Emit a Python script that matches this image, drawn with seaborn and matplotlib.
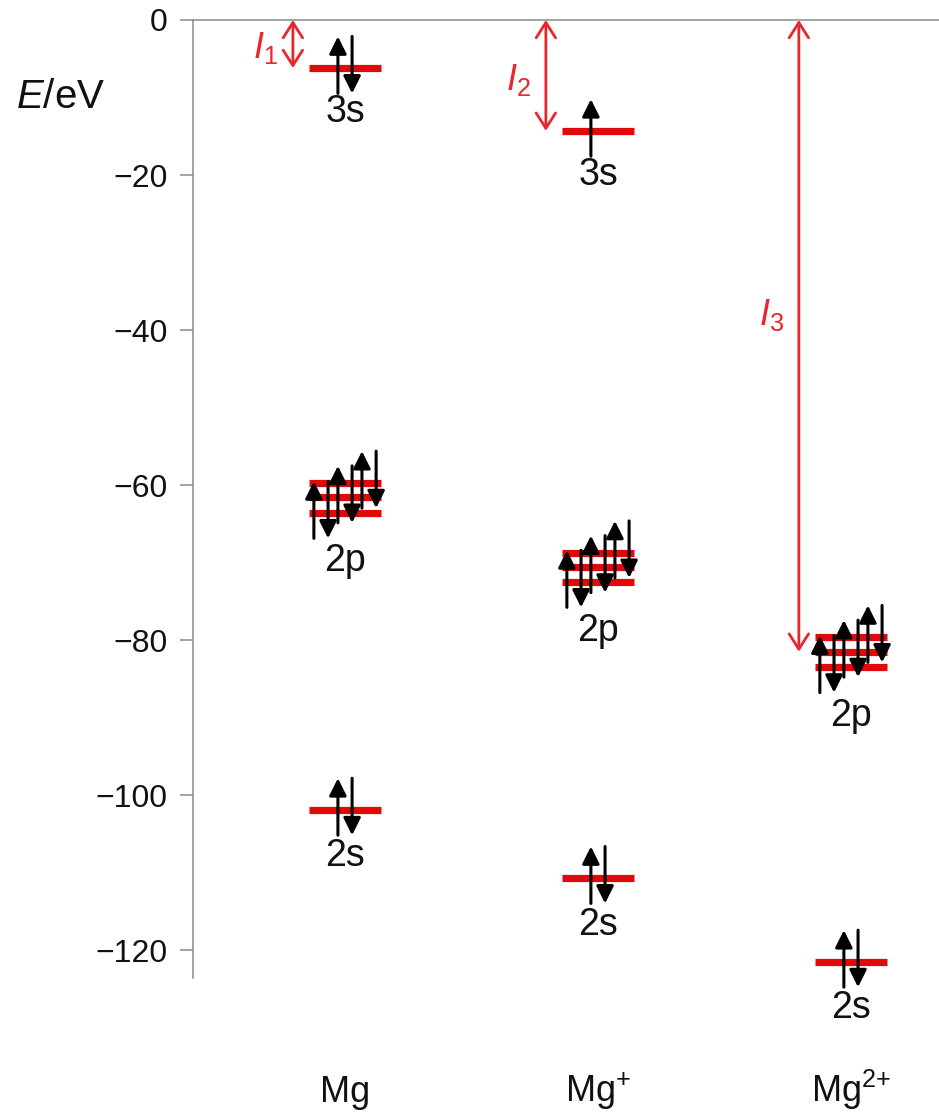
import numpy as np
import pandas as pd
import matplotlib
matplotlib.use("Agg")
import matplotlib.pyplot as plt
import seaborn as sns
from matplotlib.patches import FancyArrowPatch

# ---------------- data ----------------
species = ["Mg", "Mg$^{+}$", "Mg$^{2{+}}$"]
x_pos = [0, 1, 2]
e_3s = [-6.2, -14.3, np.nan]          # eV
n_3s = [2, 1, 0]                       # electrons in 3s
e_2p = [[-59.7, -61.6, -63.6],
        [-68.7, -70.6, -72.5],
        [-79.6, -81.5, -83.5]]         # three degenerate 2p lines
e_2s = [-101.9, -110.7, -121.5]
ion_energy = [6.2, 14.3, 81.5]         # I1, I2, I3 (eV)
ion_labels = ["$I_\\mathrm{1}$", "$I_\\mathrm{2}$", "$I_\\mathrm{3}$"]
ion_label_y = [-3.6, -7.8, -38.0]
yticks = [0, -20, -40, -60, -80, -100, -120]

# ---------------- style ----------------
sns.set_theme(style="white")
plt.rcParams["font.family"] = ["Liberation Sans", "DejaVu Sans"]
plt.rcParams["mathtext.fontset"] = "custom"
plt.rcParams["mathtext.rm"] = "Liberation Sans"
plt.rcParams["mathtext.it"] = "Liberation Sans:italic"
plt.rcParams["mathtext.bf"] = "Liberation Sans:bold"

RED = "#e10a0a"
ARED = "#e8262b"
GRAY = "#8a8a8a"
TXT = "#111111"

fig = plt.figure(figsize=(9.39, 11.17), dpi=100)
ax = fig.add_axes([0.2055, 0.1244, 0.7945, 0.8577])

HALF = 0.142      # half width of a level line (x units)
L = 7.35          # spin arrow length (eV)
DX = 0.028        # offset of up/down arrow within pair
PAIR = 0.095      # offset between 2p pairs

# ----- levels as long-form table drawn with seaborn -----
rows = []
seg = 0
for i, x in enumerate(x_pos):
    levels = [e_3s[i]] + list(e_2p[i]) + [e_2s[i]]
    for e in levels:
        if np.isnan(e):
            continue
        for xx in (x - HALF, x + HALF):
            rows.append({"x": xx, "E": e, "seg": seg})
        seg += 1
df = pd.DataFrame(rows)
sns.lineplot(data=df, x="x", y="E", units="seg", estimator=None, sort=False,
             color=RED, linewidth=5.2, solid_capstyle="butt", ax=ax, legend=False)


def spin(x, yc, up):
    yc = yc + 0.4
    if up:
        a, b = yc - L / 2, yc + L / 2
    else:
        a, b = yc + L / 2, yc - L / 2
    ar = FancyArrowPatch((x, a), (x, b), arrowstyle="-|>", mutation_scale=26,
                         color="black", linewidth=2.2, shrinkA=0, shrinkB=0,
                         clip_on=False, zorder=5)
    ax.add_patch(ar)


for i, x in enumerate(x_pos):
    # 3s
    if n_3s[i] >= 1:
        spin(x - DX, e_3s[i], True)
    if n_3s[i] == 2:
        spin(x + DX, e_3s[i], False)
    if not np.isnan(e_3s[i]):
        ax.text(x, e_3s[i] - 5.7, "3s", ha="center", va="center", fontsize=27, color=TXT)
    # 2p : pairs centred on lowest, middle, top lines from left to right
    lines = sorted(e_2p[i])
    for k, off in enumerate((-PAIR, 0, PAIR)):
        spin(x + off - DX, lines[k], True)
        spin(x + off + DX, lines[k], False)
    ax.text(x, np.mean(e_2p[i]) - 8.2, "2p", ha="center", va="center", fontsize=27, color=TXT)
    # 2s
    spin(x - DX, e_2s[i], True)
    spin(x + DX, e_2s[i], False)
    ax.text(x, e_2s[i] - 6.0, "2s", ha="center", va="center", fontsize=27, color=TXT)
    # species label
    ax.text(x, -139.6, species[i], ha="center", va="baseline", fontsize=26, color=TXT)
    # ionisation energy arrows
    xa = x - 0.206
    ar = FancyArrowPatch((xa, 0), (xa, -ion_energy[i]),
                         arrowstyle="<->,head_length=11,head_width=7",
                         mutation_scale=1, color=ARED, linewidth=2.0,
                         shrinkA=0, shrinkB=0, clip_on=False, zorder=4)
    ax.add_patch(ar)
    ax.text(xa - 0.11, ion_label_y[i], ion_labels[i], ha="center",
            va="center", fontsize=26, color=ARED)

# ----- axes -----
ax.set_xlim(-0.601, 2.348)
ax.set_ylim(-123.6, 0)
ax.set_xticks([])
ax.set_yticks(yticks)
ax.set_yticklabels([f"{t}".replace("-", "\u2212") for t in yticks])
ax.tick_params(axis="y", direction="out", length=9.4, width=1.1, color=GRAY,
               pad=9, labelsize=23, labelcolor=TXT, left=True)
ax.set_xlabel("")
ax.set_ylabel("")
for s in ("right", "bottom"):
    ax.spines[s].set_visible(False)
for s in ("left", "top"):
    ax.spines[s].set_visible(True)
    ax.spines[s].set_color(GRAY)
    ax.spines[s].set_linewidth(1.1)

ax.text(-0.178, -9.9, "$E$/eV", transform=ax.get_yaxis_transform(),
        ha="center", va="center", fontsize=29, color=TXT)

fig.savefig("out.png", dpi=100)
